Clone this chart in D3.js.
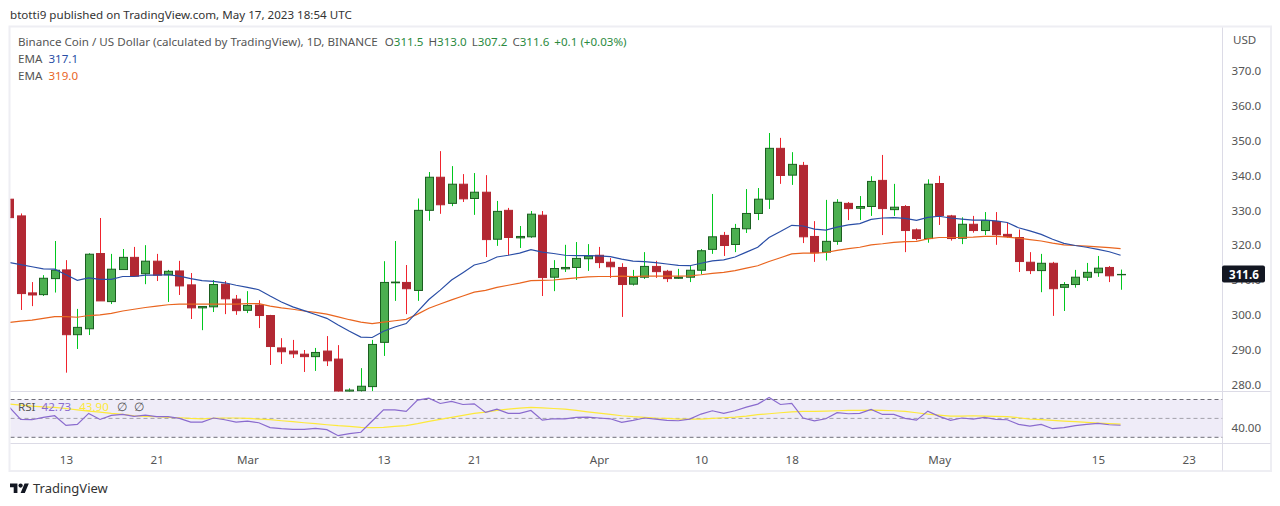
<!DOCTYPE html>
<html>
<head>
<meta charset="utf-8">
<script src="https://cdnjs.cloudflare.com/ajax/libs/d3/7.8.5/d3.min.js"></script>
<style>
    html, body { margin: 0; padding: 0; background: #fff; }
    svg { display: block; }
    text { font-family: "Noto Sans", sans-serif; font-size: 11.6px; fill: #555; }
</style>
</head>
<body>
<div id="chart"></div>
<script>
// Daily candles, 8 Feb to 17 May 2023 (index 0 = 8 Feb)
var opens = [333.2,328.4,306.3,305.8,310.4,312.9,294.3,296.0,317.6,303.8,
    313.0,316.5,311.8,315.4,311.5,312.6,308.6,302.0,302.3,308.8,
    304.5,301.3,302.8,299.8,290.5,289.6,288.7,288.0,289.6,287.3,
    278.0,278.2,279.4,292.1,309.2,309.3,307.0,330.0,339.5,332.0,
    337.5,333.4,335.2,321.7,330.0,322.1,322.4,328.6,310.8,313.2,
    313.6,316.1,317.1,315.1,313.6,308.8,310.8,313.9,312.5,310.5,
    310.8,312.8,318.8,322.8,320.2,324.7,329.1,333.2,347.8,340.1,
    342.9,322.5,318.0,321.1,332.0,330.6,331.1,338.6,330.2,331.1,
    324.4,321.9,337.7,328.4,322.0,326.0,324.2,326.8,323.1,322.2,
    315.1,312.7,314.8,307.9,308.7,310.8,312.1,313.6,311.5];
var closes = [327.9,306.1,305.7,310.5,312.8,294.3,296.4,317.4,304.0,313.1,
    316.5,311.1,315.4,311.4,312.5,308.3,302.0,302.4,308.7,304.6,
    301.2,302.7,299.8,290.9,289.4,288.8,288.0,289.2,286.8,277.5,
    278.4,279.5,291.5,309.3,309.4,307.5,330.0,339.5,331.6,337.5,
    333.3,335.2,321.6,329.7,322.2,322.5,328.9,310.7,313.3,313.6,
    316.2,316.9,315.0,313.8,308.7,310.8,313.9,312.4,310.4,310.8,
    312.8,318.4,322.4,319.9,324.8,329.1,333.2,347.8,340.0,343.2,
    322.4,317.8,321.1,332.3,330.5,331.1,338.3,330.5,330.9,324.2,
    321.9,337.5,328.5,321.9,326.0,324.2,327.1,323.0,322.5,315.3,
    312.7,314.8,307.5,308.7,310.8,312.2,313.4,311.2,311.6];
var highs = [333.6,329.1,309.4,311.4,321.2,315.7,301.7,317.7,327.8,317.5,
    318.9,319.5,320.0,317.5,312.9,315.5,312.0,302.5,310.0,309.7,
    305.7,306.8,304.2,300.0,293.3,292.8,289.9,290.5,293.9,291.3,
    278.9,284.7,292.8,315.4,321.2,314.3,333.4,341.0,347.0,342.7,
    340.4,340.7,340.1,332.7,330.7,325.5,329.8,329.8,315.7,320.1,
    320.9,320.3,319.5,316.3,314.8,312.9,318.0,315.5,312.9,313.2,
    314.0,318.9,334.7,323.8,326.1,336.1,336.4,352.2,350.8,346.7,
    343.9,326.9,333.0,333.2,332.4,334.1,339.8,345.9,337.6,331.5,
    324.8,338.9,339.9,328.7,328.0,328.4,329.5,329.5,326.5,324.5,
    318.0,317.5,315.2,309.4,312.9,314.9,316.9,314.0,313.0];
var lows = [327.5,301.4,302.5,305.4,306.4,283.4,290.2,294.2,304.0,303.1,
    313.0,311.0,308.8,309.7,303.7,305.7,298.8,295.6,300.8,300.2,
    300.0,300.5,296.2,285.6,285.9,287.6,283.6,283.9,285.3,275.0,
    276.0,277.0,278.1,288.2,304.0,300.2,304.0,327.0,329.0,331.2,
    332.4,328.7,316.6,319.8,317.1,319.2,322.1,305.4,306.8,312.3,
    310.0,312.6,313.4,310.6,299.4,308.4,310.3,310.6,309.4,310.3,
    309.4,311.7,317.5,316.9,318.0,323.5,327.2,330.4,337.6,337.3,
    320.6,315.2,315.6,320.1,327.2,327.2,328.4,322.9,328.4,318.0,
    321.4,320.7,325.8,321.3,320.3,323.6,322.9,320.1,322.1,312.3,
    311.7,306.5,299.7,301.1,307.8,309.7,310.9,309.4,307.2];

var emaBlue = [315.0,314.4,313.8,313.2,313.1,311.5,309.9,310.6,310.2,310.2,
    311.0,311.0,311.4,311.4,311.5,311.1,310.4,309.8,309.6,309.2,
    308.5,307.9,307.2,305.4,303.7,302.3,301.2,300.1,299.0,297.1,
    295.3,293.6,293.5,295.3,296.5,297.5,300.9,304.4,307.1,310.0,
    312.1,314.3,315.1,316.6,317.1,317.7,318.7,318.0,317.6,317.1,
    317.0,317.0,316.9,316.7,316.0,315.4,315.3,315.0,314.6,314.2,
    314.1,314.8,315.5,315.8,316.6,318.0,319.4,322.2,323.9,325.7,
    325.5,324.6,324.3,325.2,325.8,326.2,327.4,327.8,327.9,327.7,
    327.1,328.0,328.3,327.8,327.5,327.2,327.2,327.0,326.5,325.0,
    324.1,323.1,321.7,320.5,319.9,319.4,318.8,318.1,317.1];
var emaOrange = [297.8,298.2,298.5,299.0,299.5,299.5,299.3,299.8,300.0,300.4,
    301.1,301.6,302.1,302.5,302.9,303.1,303.1,303.1,303.1,303.1,
    303.1,303.2,303.2,302.5,302.0,301.6,301.1,300.7,300.2,299.4,
    298.6,297.9,297.5,297.9,298.3,298.7,300.2,301.9,303.1,304.3,
    305.4,306.5,307.0,307.9,308.5,309.1,309.8,309.9,310.0,310.3,
    310.6,310.9,311.0,311.0,311.1,311.0,311.1,311.1,311.1,311.1,
    311.2,311.5,311.9,312.2,312.7,313.4,314.1,315.3,316.4,317.5,
    317.7,317.7,317.9,318.5,319.0,319.4,320.1,320.4,320.8,321.0,
    321.1,321.8,322.2,322.2,322.2,322.3,322.5,322.5,322.3,322.0,
    321.6,321.2,320.6,320.1,319.9,319.7,319.5,319.3,319.0];

var rsi = [61.9,48.9,48.6,51.1,52.8,42.6,43.7,55.3,48.9,53.2,
    54.2,52.1,53.5,51.8,51.8,50.0,46.1,46.1,50.4,48.6,
    46.1,47.2,45.4,40.2,39.1,38.4,38.4,39.5,38.1,31.7,
    33.9,35.3,47.2,59.1,59.1,57.4,69.3,71.4,65.8,67.9,
    64.7,65.4,56.3,59.8,55.3,55.3,58.4,48.2,49.6,49.6,
    51.1,51.4,50.4,49.6,45.8,47.9,50.4,49.3,47.9,47.5,
    49.3,54.6,58.1,55.3,58.1,61.9,65.1,72.1,64.7,65.8,
    50.4,47.5,49.6,56.0,54.9,55.3,59.5,54.2,54.2,50.0,
    48.2,57.7,52.1,47.9,50.4,49.3,51.1,48.9,48.6,43.7,
    41.9,43.7,39.1,40.2,42.3,43.7,44.7,43.3,42.73];
var rsiMa = [65.1,64.0,63.0,62.3,61.6,60.5,59.1,57.7,56.7,55.3,
    54.2,52.8,52.1,51.8,51.1,50.7,50.0,49.6,50.0,50.4,
    50.4,50.0,49.3,48.6,47.5,46.5,45.4,44.4,43.3,42.3,
    41.6,40.5,40.2,40.5,41.6,42.3,44.4,46.8,48.9,51.1,
    53.2,55.3,56.7,58.4,59.8,60.9,61.6,61.2,60.5,59.8,
    58.4,57.0,55.6,54.2,52.8,51.8,51.1,50.4,50.0,49.3,
    49.3,49.3,50.0,50.7,51.4,52.5,53.9,54.9,56.0,57.0,
    57.4,57.4,57.7,58.1,58.4,58.4,58.8,58.4,58.1,57.4,
    56.0,54.6,53.5,52.5,52.5,52.8,52.5,52.1,51.8,50.7,
    49.3,48.6,47.9,47.2,46.5,45.8,45.1,44.4,43.9];

var priceTicks = [280, 290, 300, 310, 320, 330, 340, 350, 360, 370];
var rsiTicks = [40];
var rsiLevels = [70, 50, 30];
var timeTickIdx = [5, 13, 21, 33, 41, 52, 61, 69, 82, 96, 104];
var timeTickLabels = ["13", "21", "Mar", "13", "21", "Apr", "10", "18", "May", "15", "23"];

var width = 1280, height = 506;
var paneLeft = 10.5, paneRight = 1222.5, paneTop = 27.5, splitY = 391.5, rsiBottom = 443.5, frameBottom = 470.5, frameRight = 1270.5;

var UP_FILL = "#4caf50", UP_LINE = "#1b5e20", UP_WICK = "#00c81e";
var DOWN_FILL = "#b22833", DOWN_WICK = "#f0232d";
var BLUE = "#2a4ea6", ORANGE = "#e9651f", PURPLE = "#8a6bce", YELLOW = "#fde93b";

var svg = d3.select("#chart").append("svg").attr("width", width).attr("height", height);

// escalas
var x = d3.scaleLinear().domain([0, 98]).range([9.3, 1120.6]);
var y = d3.scaleLinear().domain([280, 370]).range([384.5, 71]);
var yRsi = d3.scaleLinear().domain([30, 70]).range([437.3, 399.5]);

var defs = svg.append("defs");
defs.append("clipPath").attr("id", "clipPrice").append("rect")
    .attr("x", paneLeft).attr("y", paneTop).attr("width", paneRight - paneLeft).attr("height", splitY - paneTop);
defs.append("clipPath").attr("id", "clipRsi").append("rect")
    .attr("x", paneLeft).attr("y", splitY).attr("width", paneRight - paneLeft).attr("height", rsiBottom - splitY);

// marco
svg.append("rect").attr("x", 9.5).attr("y", 26.5).attr("width", frameRight - 9).attr("height", frameBottom - 26)
    .attr("fill", "none").attr("stroke", "#eeeef3").attr("stroke-width", 2);
[[paneLeft, frameRight, splitY, splitY], [paneLeft, frameRight, rsiBottom, rsiBottom], [paneRight, paneRight, paneTop, frameBottom]]
    .forEach(function (l) {
        svg.append("line").attr("x1", l[0]).attr("x2", l[1]).attr("y1", l[2]).attr("y2", l[3])
            .attr("stroke", "#dcdbe6").attr("stroke-width", 1);
    });

// velas
var price = svg.append("g").attr("clip-path", "url(#clipPrice)");
var idx = d3.range(opens.length);
function snap(v) { return Math.round(v) + 0.5; }

price.append("g").selectAll("line").data(idx).enter().append("line")
    .attr("x1", d => snap(x(d))).attr("x2", d => snap(x(d)))
    .attr("y1", d => y(highs[d])).attr("y2", d => y(lows[d]))
    .attr("stroke", d => closes[d] >= opens[d] ? UP_WICK : DOWN_WICK);
price.append("g").selectAll("rect").data(idx).enter().append("rect")
    .attr("x", d => snap(x(d)) - 4)
    .attr("width", 8)
    .attr("y", d => y(Math.max(opens[d], closes[d])))
    .attr("height", d => Math.abs(y(opens[d]) - y(closes[d])))
    .attr("fill", d => closes[d] >= opens[d] ? UP_FILL : DOWN_FILL)
    .attr("stroke", d => closes[d] >= opens[d] ? UP_LINE : DOWN_FILL);

// medias
var priceLine = d3.line().x((d, i) => x(i)).y(d => y(d));
price.append("path").attr("d", priceLine(emaOrange)).attr("fill", "none").attr("stroke", ORANGE).attr("stroke-width", 1.2);
price.append("path").attr("d", priceLine(emaBlue)).attr("fill", "none").attr("stroke", BLUE).attr("stroke-width", 1.2);

// RSI
var pane = svg.append("g").attr("clip-path", "url(#clipRsi)");
pane.append("rect").attr("x", paneLeft).attr("width", paneRight - paneLeft)
    .attr("y", yRsi(70)).attr("height", yRsi(30) - yRsi(70)).attr("fill", "#efecf8");
pane.selectAll(".level").data(rsiLevels).enter().append("line").attr("class", "level")
    .attr("x1", paneLeft).attr("x2", paneRight)
    .attr("y1", d => yRsi(d)).attr("y2", d => yRsi(d))
    .attr("stroke", d => d === 50 ? "#a3a1ab" : "#6f6e78")
    .attr("stroke-dasharray", "4 3");
var rsiLine = d3.line().x((d, i) => x(i)).y(d => yRsi(d));
pane.append("path").attr("d", rsiLine(rsiMa)).attr("fill", "none").attr("stroke", YELLOW).attr("stroke-width", 1.2);
pane.append("path").attr("d", rsiLine(rsi)).attr("fill", "none").attr("stroke", PURPLE).attr("stroke-width", 1.2);

// ejes
function cleanAxis(g) { g.select(".domain").remove(); g.selectAll("line").remove(); }
svg.append("g").attr("transform", "translate(1222.5,0)")
    .call(d3.axisRight(y).tickValues(priceTicks).tickSize(0).tickPadding(9).tickFormat(d3.format(".1f")))
    .call(cleanAxis);
svg.append("g").attr("transform", "translate(1222.5,0)")
    .call(d3.axisRight(yRsi).tickValues(rsiTicks).tickSize(0).tickPadding(9).tickFormat(d3.format(".2f")))
    .call(cleanAxis);
svg.append("g").attr("transform", "translate(0,443.5)")
    .call(d3.axisBottom(x).tickValues(timeTickIdx).tickSize(0).tickPadding(12).tickFormat((d, i) => timeTickLabels[i]))
    .call(cleanAxis);
svg.selectAll("g.tick text").style("font-family", '"Noto Sans", sans-serif').style("font-size", "11.6px").style("fill", "#555");

svg.append("text").attr("x", 1233).attr("y", 44).text("USD");

// etiqueta último precio
var lastClose = closes[closes.length - 1];
svg.append("rect").attr("x", 1222).attr("y", y(lastClose) - 9).attr("width", 43).attr("height", 17).attr("rx", 2).attr("fill", "#131722");
svg.append("text").attr("x", 1244).attr("y", y(lastClose) + 4.5).attr("text-anchor", "middle")
    .style("fill", "#fff").style("font-weight", "bold").text(lastClose.toFixed(1));

// textos
svg.append("text").attr("x", 10).attr("y", 19).style("fill", "#333").text("btotti9 published on TradingView.com, May 17, 2023 18:54 UTC");

var legend = svg.append("text").attr("x", 18).attr("y", 46);
legend.append("tspan").text("Binance Coin / US Dollar (calculated by TradingView), 1D, BINANCE");
[["O", "311.5"], ["H", "313.0"], ["L", "307.2"], ["C", "311.6"]].forEach(function (p, i) {
    legend.append("tspan").attr("dx", i === 0 ? 7 : 5).text(p[0]);
    legend.append("tspan").style("fill", "#2b8a3e").text(p[1]);
});
legend.append("tspan").attr("dx", 5).style("fill", "#2b8a3e").text("+0.1 (+0.03%)");

var ema1 = svg.append("text").attr("x", 18).attr("y", 63);
ema1.append("tspan").text("EMA");
ema1.append("tspan").attr("dx", 6).style("fill", BLUE).text("317.1");
var ema2 = svg.append("text").attr("x", 18).attr("y", 80);
ema2.append("tspan").text("EMA");
ema2.append("tspan").attr("dx", 6).style("fill", ORANGE).text("319.0");

var rsiLabel = svg.append("text").attr("x", 18).attr("y", 411);
rsiLabel.append("tspan").text("RSI");
rsiLabel.append("tspan").attr("dx", 6).style("fill", PURPLE).text("42.73");
rsiLabel.append("tspan").attr("dx", 8).style("fill", YELLOW).text("43.90");
rsiLabel.append("tspan").attr("dx", 8).text("∅");
rsiLabel.append("tspan").attr("dx", 7).text("∅");

// logo
var logo = svg.append("g").attr("transform", "translate(10,483.5) scale(0.53)").attr("fill", "#131722");
logo.append("path").attr("d", "M14 22H7V11H0V4h14v18zM28 22h-8l7.5-18h8L28 22z").attr("transform", "translate(0,-4)");
logo.append("circle").attr("cx", 20).attr("cy", 4).attr("r", 4);
svg.append("text").attr("x", 33).attr("y", 493).style("font-size", "13px").style("fill", "#333").text("TradingView");
</script>
</body>
</html>
